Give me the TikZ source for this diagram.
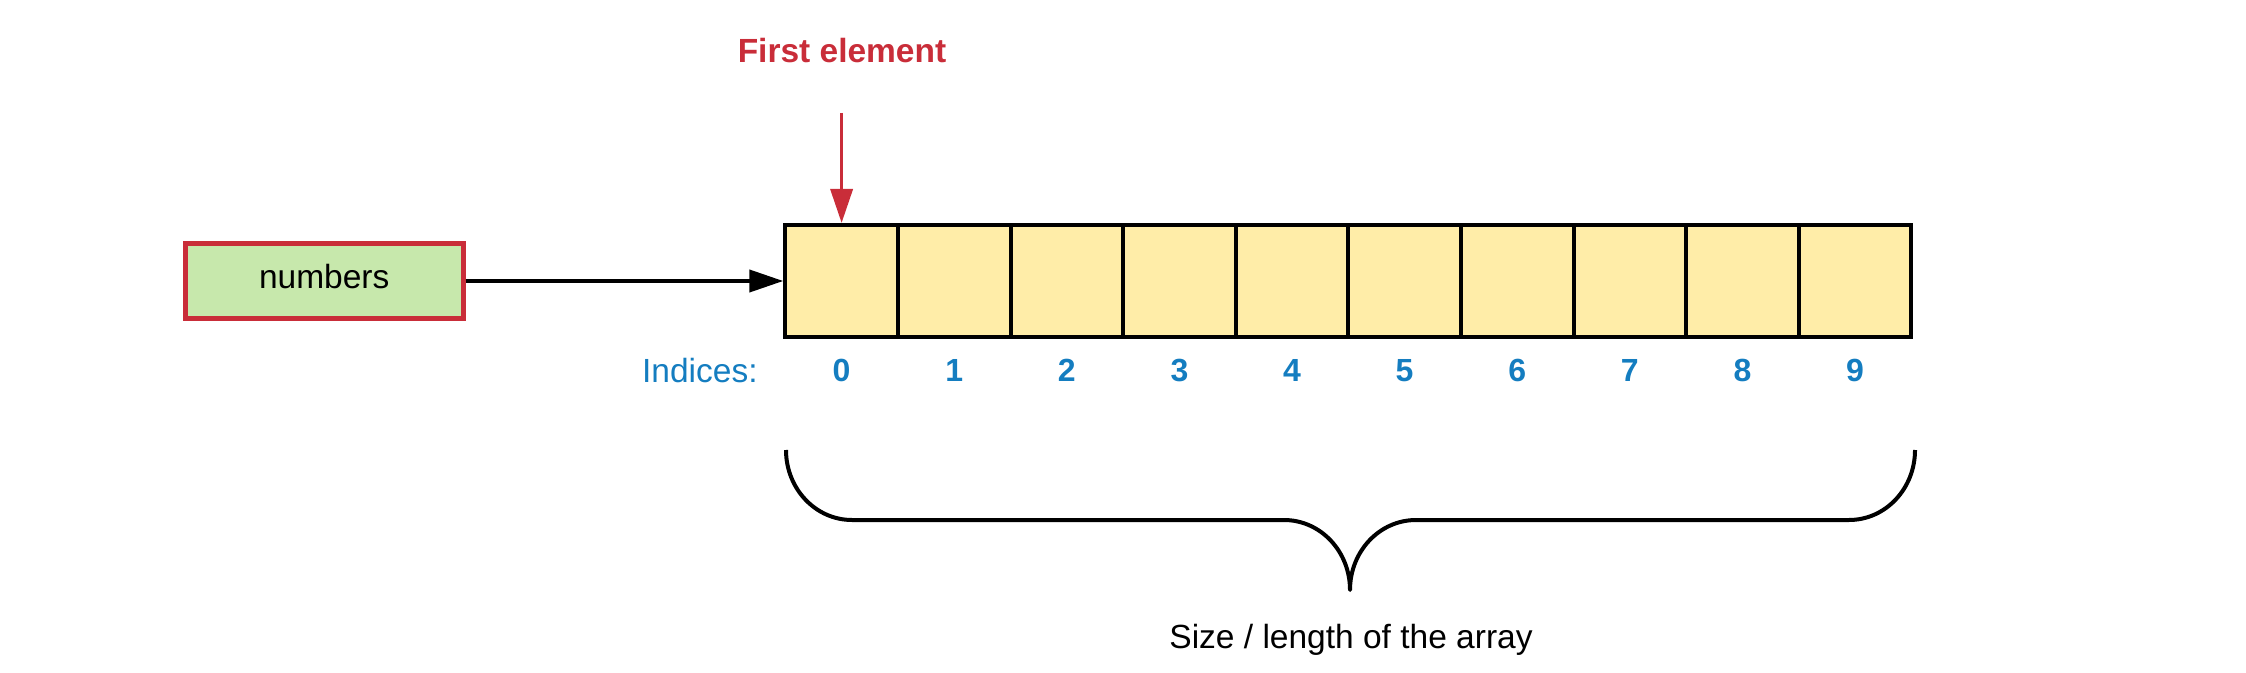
\documentclass[tikz,border=0pt]{standalone}
\usepackage{fontspec}
\setmainfont{Liberation Sans}
\usetikzlibrary{arrows.meta}
\definecolor{redc}{HTML}{C92D39}
\definecolor{greenc}{HTML}{C7E8AC}
\definecolor{yellowc}{HTML}{FFEDA8}
\definecolor{bluec}{HTML}{147DC0}
\begin{document}
\begin{tikzpicture}[x=0.5pt,y=-0.5pt,
  txt/.style={font=\fontsize{16.75pt}{20pt}\selectfont, inner sep=0pt},
  cell/.style={draw=black, line width=2pt, fill=yellowc, minimum width=56.3pt, minimum height=56pt, inner sep=0pt},
  numbox/.style={txt, draw=redc, line width=2.3pt, fill=greenc, minimum width=139pt, minimum height=37.6pt, text depth=5pt},
  idx/.style={font=\fontsize{16pt}{19pt}\selectfont\bfseries, text=bluec, inner sep=0pt},
  conn/.style={line width=2pt, -{Triangle[length=17pt,width=11pt]}},
  brace/.style={line width=2pt, line join=round}]
\useasboundingbox (0,0) rectangle (2246,673);
\foreach \i in {0,...,9} {
  \node[cell] (c\i) at ({841.6+112.6*\i},281) {};
  \node[idx, anchor=base] (d\i) at ({841.6+112.6*\i},381) {\i};
}
\node[numbox] (num) at (324.25,281) {numbers};
\draw[conn] (num.east) -- (c0.west);
\node[txt, font=\fontsize{16.75pt}{20pt}\selectfont\bfseries, text=redc, anchor=base] (fe) at (842,63) {First element};
\coordinate (fs) at (841.6,113);
\draw[conn, redc, line width=1.8pt] (fs) -- (c0.north);
\node[txt, text=bluec, anchor=base east] (ind) at (758,382) {Indices:};
\node[txt, anchor=base] (sz) at (1351,648.5) {Size / length of the array};
\draw[brace] (786,450) .. controls (786,488.7) and (815.5,520) .. (852,520)
  -- (1284,520) .. controls (1320.5,520) and (1350,551.3) .. (1350,590)
  .. controls (1350,551.3) and (1379.5,520) .. (1416,520)
  -- (1849,520) .. controls (1885.5,520) and (1915,488.7) .. (1915,450);
\end{tikzpicture}
\end{document}
